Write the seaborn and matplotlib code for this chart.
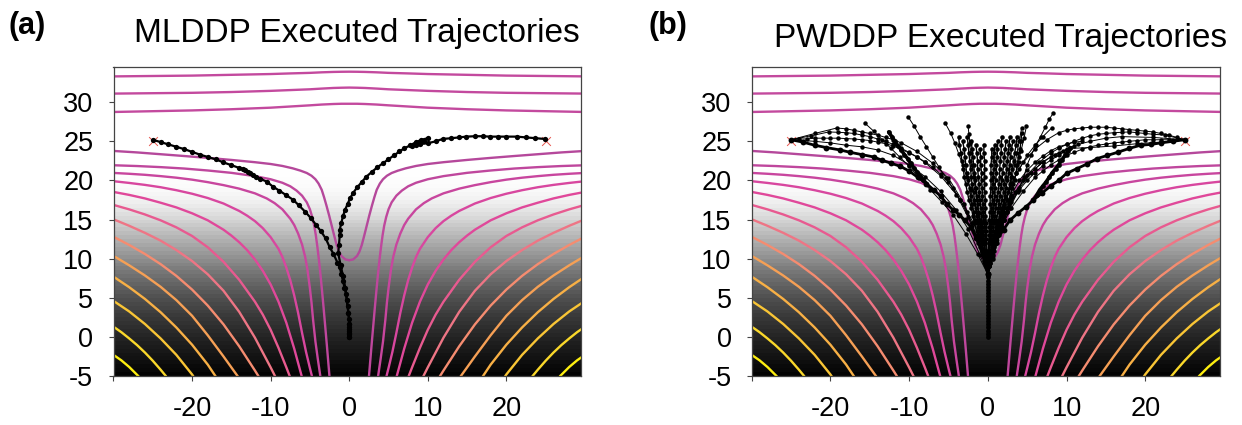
import matplotlib
matplotlib.use('Agg')
import matplotlib.pyplot as plt
import seaborn as sns
import numpy as np

sns.set_style('ticks')
plt.rcParams['font.family'] = ['Liberation Sans', 'DejaVu Sans']

# background shading, gray level per half unit of height starting at y=-5
bg_y_start = -5
bg_gray = [3,8,10,14,18,20,24,27,30,34,38,42,46,50,54,58,63,68,72,77,82,88,94,100,106,112,118,125,132,139,
           146,153,160,167,174,181,188,195,202,209,216,222,228,234,239,243,246,249,251,252,253,254,254,255]

# top contours, full width
top_x = [-30,-25,-20,-15,-10,-7.5,-5,-3.5,-2,-1,0,1,2,3.5,5,7.5,10,15,20,25,30]
top1_y = [33.3,33.35,33.4,33.5,33.6,33.68,33.75,33.82,33.87,33.89,33.9,33.89,33.87,33.82,33.75,33.68,33.6,33.5,33.4,33.35,33.3]
top2_y = [31.1,31.15,31.2,31.3,31.45,31.55,31.65,31.74,31.82,31.85,31.87,31.85,31.82,31.74,31.65,31.55,31.45,31.3,31.2,31.15,31.1]
top3_y = [28.75,28.85,28.95,29.1,29.3,29.45,29.6,29.7,29.77,29.8,29.8,29.8,29.77,29.7,29.6,29.45,29.3,29.1,28.95,28.85,28.75]

# lower contours, left half only (the field is symmetric)
c0 = [(-30,23.77),(-27,23.58),(-24,23.35),(-21,23.12),(-18,22.88),(-15,22.62),(-12,22.33),(-10,22.1),(-8.5,21.85),(-7.2,21.55),(-6.2,21.25),(-5.4,20.95),(-4.8,20.6),
      (-4.3,20.15),(-3.9,19.6),(-3.5,18.8),(-3.2,17.85),(-2.9,16.8),(-2.55,15.5),(-2.2,14.1),(-1.9,12.9),(-1.6,11.75),(-1.3,10.9),(-1,10.35),(-0.5,9.9),(0,9.8)]
c1 = [(-30,21.94),(-27,21.84),(-24,21.7),(-21,21.52),(-18,21.27),(-15,20.97),(-12,20.55),(-10,20.15),(-8.5,19.7),(-7.5,19.25),(-6.7,18.7),(-6,18.05),(-5.4,17.2),(-5,16.3),
      (-4.7,15.3),(-4.45,14.2),(-4.25,13),(-4.05,11.5),(-3.85,9.8),(-3.65,7.9),(-3.45,5.8),(-3.25,3.6),(-3.05,1.3),(-2.85,-1),(-2.65,-3.4),(-2.5,-5.2)]
c2 = [(-30,20.96),(-28,20.85),(-26,20.72),(-24,20.55),(-22,20.35),(-20,20.1),(-18,19.78),(-16,19.4),(-14,18.95),(-12,18.35),(-10.5,17.7),(-9.5,17.1),(-8.5,16.3),(-7.5,15.1),
      (-7,14.3),(-6.5,13.2),(-6,11.8),(-5.6,10.2),(-5.3,8.5),(-5,6.2),(-4.8,4.4),(-4.6,2.2),(-4.3,-0.6),(-4,-2.8),(-3.65,-5.2)]
c3 = [(-30,19.9),(-28,19.68),(-26,19.43),(-24,19.13),(-22,18.75),(-20,18.3),(-18,17.75),(-16,17.05),(-14,16.1),(-13,15.5),(-12,14.8),(-11,13.9),(-10,12.75),(-9,11.25),
      (-8.5,10.2),(-8,8.85),(-7.5,7.25),(-7,5.3),(-6.5,3.05),(-6,0.5),(-5.5,-1.9),(-5,-4),(-4.7,-5.2)]
c4 = [(-30,18.53),(-28,18.15),(-26,17.7),(-24,17.15),(-22,16.55),(-20,15.8),(-18,14.9),(-16,13.7),(-15,12.95),(-14,12.1),(-13,11.1),(-12,9.9),(-11,8.45),(-10,6.7),(-9,4.5),(-8,1.8),(-7,-1.5),(-6,-5.2)]
c5 = [(-30,16.87),(-28,16.3),(-26,15.65),(-24,14.9),(-22,14),(-20,12.9),(-18,11.45),(-16,9.6),(-14,7.3),(-12,4.5),(-11,2.85),(-10,0.9),(-9,-1.4),(-8,-3.9),(-7.5,-5.2)]
c6 = [(-30,15.03),(-28,14.2),(-26,13.3),(-24,12.3),(-22,11.1),(-20,9.7),(-18,8),(-16,5.9),(-14,3.2),(-12,-0.1),(-10,-3.9),(-9.4,-5.1)]
c7 = [(-30,12.8),(-28,11.75),(-26,10.6),(-24,9.3),(-22,7.8),(-20,6.05),(-18,4),(-16,1.6),(-14,-1.2),(-12,-4.3),(-11.5,-5.1)]
c8 = [(-30,10.35),(-28,9.15),(-26,7.85),(-24,6.4),(-22,4.7),(-20,2.7),(-18,0.2),(-16,-2.5),(-14,-5.3)]
c9 = [(-30,7.7),(-28,6.35),(-26,4.85),(-24,3.15),(-22,1.2),(-20,-1),(-18,-3.55),(-16.9,-5.2)]
c10 = [(-30,4.6),(-28,3.25),(-26,1.65),(-24,-0.2),(-22,-2.3),(-20,-4.8),(-19.8,-5.1)]
c11 = [(-30,1.3),(-29,0.6),(-28,-0.2),(-27,-1.05),(-26,-2),(-25,-3.05),(-24,-4.2),(-23.3,-5.05)]
c12 = [(-30,-2.3),(-29,-3),(-28,-3.85),(-27,-4.85),(-26.8,-5.05)]
lower_contours = [c0,c1,c2,c3,c4,c5,c6,c7,c8,c9,c10,c11,c12]
lower_colors = ['#b5489b','#bf479d','#c8469e','#d8479f','#e0489a','#e85a90','#ee7585','#f58c70',
                '#f6a055','#f8b045','#f9c535','#fad82a','#fdee10']

goal_x = [-25,25]
goal_y = [25,25]

# panel (a) trajectories
a_left = [(-25,25.2),(-24,24.9),(-23,24.6),(-22,24.3),(-21,24),(-20,23.65),(-19,23.3),(-18,23),(-17,22.7),(-16,22.3),(-15,21.95),
          (-14,21.6),(-13.5,21.5),(-13.2,21.3),(-12.9,21.1),(-12.6,20.95),(-12.2,20.7),(-11.8,20.45),(-11.3,20.2),(-10.5,19.85),(-9.7,19.2),(-8.9,18.7),
          (-8,18.1),(-7.1,17.5),(-6.4,16.8),(-5.6,16),(-4.9,15.2),(-4.2,14.3),(-3.6,13.5),(-3,12.6),(-2.5,11.5),(-2,10.6),(-1.5,9.5),
          (-1.2,8.9),(-1,8),(-0.8,7.2),(-0.6,6.3),(-0.4,5.5),(-0.3,4.7),(-0.2,3.9),(-0.1,3.1),(0,2.3),(0,1.7),(0,1.2),(0,0.8),(0,0.4),(0,0)]
a_right = [(0,0),(0,0.5),(0,1),(0,1.7),(-0.1,3),(-0.3,4.7),(-0.5,6.3),(-0.8,7.8),(-1.1,9.2),(-1.4,10.7),(-1.3,11.8),(-1.2,13),(-1.2,13.7),(-1,14.6),(-0.8,15.4),
           (-0.55,16.2),(-0.2,17),(0.1,17.7),(0.5,18.4),(1,19.1),(1.6,19.8),(2.2,20.5),(2.9,21.1),(3.6,21.7),(4.3,22.2),(5,22.7),(5.7,23.2),(6.4,23.7),
           (7,24.1),(7.8,24.5),(8.5,24.9),(9.2,25.2),(10,25.4),(9.5,25),(9,24.8),(8.5,24.5),(8,24.45),(9,24.65),(10,24.75),(11,25),(11.9,25.3),(13,25.4),(14,25.5),(14.9,25.6),(16,25.65),(17,25.65),
           (17.9,25.6),(19,25.6),(20,25.6),(21.3,25.6),(22.5,25.5),(23.7,25.4),(24.9,25.3)]

# panel (b) trajectories
b_trunk_y = [0,0.4,0.8,1.2,1.6,2,2.4,2.8,3.2,3.6,4,4.4,4.8,5.2,5.6,6,6.4,6.8,7.2,7.6,8]
b_bold_left = [(-25,25.2),(-23.5,24.9),(-22,24.5),(-20.5,24.2),(-18.8,23.9),(-17.5,23.6),(-16,23.3),(-14.5,23),(-13.5,22.6),(-12.3,22.2),(-11.1,21.8),(-10,21.2),(-8.9,20.4),(-7.8,19.6),(-6.9,18.8),(-6,18),(-5.2,17),(-4.4,16.2),(-3.6,15.6),(-2.9,14.9),(-2.2,14.1),(-1.5,12.6),(-0.8,11.1),(-0.4,9.6),(0,8.1)]
b_bold_right = [(25,25.2),(23.5,25),(22,24.8),(20.7,24.6),(19.4,24.5),(18,24.1),(16.5,23.6),(15.2,23.2),(13.9,22.8),(12.6,22.1),(11.3,21.5),(10,20.9),(9,20),(8,19.3),(6.9,18.4),(5.8,17.5),(4.8,16.6),(3.8,15.8),(2.8,14.9),(2,13.7),(1.1,12.4),(0.5,10.2),(0,8.1)]
b_branch_left = [(-12.6,26.2),(-12.2,25.6),(-11.8,25),(-11.4,24.4),(-11,23.9),(-10.6,23.3),(-10.2,22.8),(-9.8,22.2),(-9.4,21.6),(-9,21.1),(-8.6,20.6),(-8.2,20.1),(-7.8,19.6)]
b_branch_right = [(10.5,24.2),(10.2,23.7),(9.8,23.2),(9.4,22.6),(9,22),(8.6,21.5),(8.2,21),(7.8,20.4),(7.4,19.8),(7,19.3),(6.6,18.8),(6.2,18.1),(5.8,17.5)]
b_thin = [
    [(0,8),(-0.4,10.5),(-1,12.5),(-1.8,14.5),(-2.6,16),(-3.5,17.5),(-4.4,19),(-5.3,20.3),(-6.2,21.7),(-7,23),(-7.8,24.3),(-8.6,25.6),(-9.4,27),(-10.1,28.1)],
    [(0,8),(-0.3,10.5),(-0.7,13),(-1.2,15),(-1.7,17),(-2.2,18.8),(-2.7,20.5),(-3.2,22),(-3.7,23.4),(-4.2,24.8),(-4.7,26),(-5.4,27.3)],
    [(0,8),(-0.2,10),(-0.5,12),(-0.8,14),(-1.1,15.8),(-1.4,17.5),(-1.6,19),(-1.8,20.5),(-2,22),(-2.2,23.5),(-2.3,24.8),(-2.4,25.9),(-2.5,26.9)],
    [(0,8),(0.5,10),(1,12),(1.5,14),(2,15.8),(2.4,17.5),(2.8,19),(3.1,20.5),(3.4,22),(3.7,23.5),(4,25.1),(4.3,26.7)],
    [(0,8),(0.6,10),(1.2,12),(1.8,14),(2.4,16),(2.8,17.8),(3.2,19.5),(3.6,21),(3.9,22.4),(4.2,23.7),(4.6,25.4),(4.9,26.9)],
    [(0,8),(0.8,11),(1.8,14),(2.8,16.5),(3.8,18.5),(4.6,20.5),(5,22),(5.5,23.2),(6.1,24.5),(6.7,25.6),(7.3,26.8),(7.8,27.8),(8.3,28.6)],
    [(-25,25.2),(-24,25.3),(-23,25.3),(-22,25.4),(-21,25.4),(-20,25.4),(-19,25.4),(-18,25.35),(-17,25.3),(-16,25.2),(-15,25.1),(-14,24.9),(-13,24.7),(-12,24.4),(-11,24),(-10,23.5),(-9,23),(-8,22.4),(-7,21.7),(-6,20.8),(-5,19.8),(-3.5,17.5),(-2,14.5),(-1,11.5),(0,8)],
    [(-25,25.2),(-22.5,25.7),(-20.2,26.2),(-19,26.15),(-18,26.1),(-17,26),(-16,25.8),(-15,25.6),(-14,25.3),(-13,25),(-12,24.6),(-11,24.1),(-10,23.6),(-9,23),(-8,22.3),(-6,20.6),(-4,18.2),(-2.5,15.3),(-1.2,12),(0,8)],
    [(-25,25.2),(-22,26),(-19.2,26.7),(-18,26.6),(-17,26.4),(-16,26.2),(-15,26),(-14,25.8),(-13,25.5),(-12,25.2),(-11,24.8),(-9,23.7),(-7,22.2),(-5,20.3),(-3,17),(-1.5,13),(0,8)],
    [(-15.6,27.3),(-14.5,26.3),(-13.4,25.2),(-12.3,24.1),(-11.2,23),(-10,21.8),(-8.7,20.3),(-7.3,18.8),(-5.8,17.2),(-4.4,15.6),(-2.8,13.2),(-1.3,10.6),(0,8)],
    [(-25,25.2),(-22,25),(-20,24.8),(-18,24.5),(-16,24.3),(-14,23.9),(-12,23.2),(-10,22),(-8,20.5),(-6,18.6),(-4,16.2),(-2.5,13.8),(-1,10.5),(0,8)],
    [(25,25.2),(24,25.5),(23,25.8),(22,26),(21,26.2),(20,26.3),(19,26.4),(18,26.5),(17,26.6),(16,26.7),(15,26.8),(14,26.8),(13,26.8),(12,26.7),(11,26.6),(10,26.4),(9,26.1),(7.5,25.2),(6,24),(4.5,22.3),(3,19.7),(1.8,16.5),(0.8,12.5),(0,8)],
    [(25,25.2),(22.5,25.8),(21,25.9),(20,26),(19,26.1),(18,26.2),(17,26.15),(16,26.1),(15,26),(14,25.9),(13,25.7),(12,25.4),(11,25),(10,24.6),(9,24.1),(8,23.5),(6.5,22.3),(5,20.7),(3.5,18.5),(2,15),(0.8,11.5),(0,8)],
    [(25,25.2),(23,25.2),(22,25.2),(21,25.2),(20,25.2),(19,25.1),(18,25),(17,24.9),(16,24.8),(15,24.65),(14,24.5),(13,24.3),(12,24),(11,23.6),(10,23.2),(9,22.6),(8,22),(7,21.2),(6,20.4),(4.5,18.6),(3,16.5),(1.7,14),(0.7,11),(0,8)],
    [(25,25.2),(22,24.9),(19,24.7),(16,24.4),(13,24.2),(10.5,24.1),(9.5,23.7),(8.5,23.3),(7,22.4),(5.5,21),(4,19),(2.5,16.5),(1.2,13),(0,8)],
    [(8.1,26.7),(7,25.6),(6,24.5),(5,23.2),(4,21.5),(3,19.5),(2,17),(1.2,14.5),(0.5,11.5),(0,8)],
    [(25,25.2),(21,25.5),(17,25.6),(15,25.4),(13,25),(11.5,24.6),(10,24),(9,23.5),(8,23),(7,22.3),(6,21.5),(4.5,20),(3,17.8),(1.5,14),(0,8)],
    [(11,24.4),(10,23.9),(9,23.2),(8,22.6),(7,21.9),(6,21),(5,20),(4,18.8),(3,17.2),(2,15),(1,12),(0,8)],
    [(12,25),(11,24.9),(10,24.6),(9,24.3),(8,23.8),(7,23.1),(6,22.3),(5,21.3),(4,20),(3,18.2),(2,15.8),(1,12.5),(0,8)],
]

# near-vertical fan out of the centre, x values read at two ladders of heights
ladder_a = [8,9,10.5,12,13,14,15,16,17,18,19,20,21,22,23,24,25,26]
ladder_b = [8,9.5,11,12.5,13.5,14.5,15.5,16.5,17.5,18.5,19.5,20.5,21.5,22.5,23.5,24.5,25.5]
fan_a = [
    [0,-.2,-.4,-.8,-1.1,-1.3,-1.6,-1.8,-2,-2.2,-2.3,-2.5,-2.7,-2.8,-2.9,-3,-3.2],
    [0,-.1,-.3,-.5,-.7,-.9,-1,-1.2,-1.3,-1.4,-1.5,-1.6,-1.7,-1.8,-1.9,-2,-2.1],
    [0,0,-.1,-.3,-.3,-.4,-.5,-.6,-.6,-.7,-.7,-.8,-.8,-.9,-.9,-1],
    [0,0,.1,.1,.2,.2,.2,.3,.3,.3,.4,.4,.4,.4,.5,.5],
    [0,.1,.2,.3,.4,.5,.6,.7,.8,.9,.9,1,1.1,1.1,1.2,1.2,1.3],
    [0,.1,.3,.6,.8,1,1.1,1.3,1.4,1.6,1.7,1.8,1.9,2,2.1,2.2,2.3],
    [0,.2,.4,.8,1.1,1.3,1.6,1.8,2,2.2,2.3,2.5,2.7,2.8,2.9,3,3.2],
    [0,.2,.6,1.1,1.4,1.8,2.1,2.4,2.7,2.9,3.1,3.4,3.6,3.7,3.9,4.1,4.2,4.3],
]
fan_b = [
    [0,-.3,-.7,-1.1,-1.4,-1.7,-1.9,-2.1,-2.4,-2.6,-2.8,-3,-3.1,-3.3,-3.4,-3.6,-3.7],
    [0,-.2,-.5,-.8,-1,-1.2,-1.4,-1.5,-1.7,-1.8,-2,-2.1,-2.2,-2.3,-2.4,-2.5,-2.6],
    [0,-.1,-.3,-.5,-.6,-.7,-.8,-.9,-1,-1.1,-1.1,-1.2,-1.3,-1.3,-1.4,-1.5],
    [0,0,-.1,-.2,-.2,-.2,-.3,-.3,-.3,-.4,-.4,-.4,-.4,-.4,-.5,-.5],
    [0,.1,.2,.3,.3,.4,.5,.5,.6,.6,.7,.7,.8,.8,.8,.9],
    [0,.2,.4,.5,.7,.8,.9,1,1.2,1.3,1.4,1.5,1.5,1.6,1.7,1.7,1.8],
    [0,.3,.6,.8,1.1,1.3,1.5,1.6,1.8,2,2.1,2.3,2.4,2.5,2.6,2.7,2.8],
    [0,.3,.7,1.1,1.4,1.7,1.9,2.1,2.4,2.6,2.8,3,3.1,3.3,3.4,3.6,3.7],
]

x_ticks = [-30,-20,-10,0,10,20]
x_labels = ['','-20','-10','0','10','20']
y_ticks = [-5,0,5,10,15,20,25,30]
y_labels = ['-5','0','5','10','15','20','25','30']


def draw_path(ax, pts, lw, ms):
    xy = np.array(pts)
    sns.lineplot(x=xy[:,0], y=xy[:,1], ax=ax, color='black', lw=lw, marker='o', markersize=ms,
                 markeredgewidth=0, sort=False, estimator=None, legend=False, zorder=5)


def draw_base(ax, title, title_x, title_pad):
    rows = np.array(bg_gray)[:,None]
    edges = bg_y_start + 0.5*np.arange(len(bg_gray)+1)
    ax.pcolormesh([-30,29.5], edges, rows, cmap='gray', vmin=0, vmax=255, zorder=0)
    for y in (top1_y, top2_y, top3_y):
        sns.lineplot(x=top_x, y=y, ax=ax, color='#c34a9e', lw=1.7, sort=False, estimator=None, zorder=2)
    for pts, col in zip(lower_contours, lower_colors):
        xy = np.array(pts)
        sns.lineplot(x=xy[:,0], y=xy[:,1], ax=ax, color=col, lw=1.7, sort=False, estimator=None, zorder=2)
        sns.lineplot(x=-xy[:,0], y=xy[:,1], ax=ax, color=col, lw=1.7, sort=False, estimator=None, zorder=2)
    sns.scatterplot(x=goal_x, y=goal_y, ax=ax, marker='x', color='#e8554e', s=40, linewidth=0.7, zorder=4)
    ax.set_xlim(-30,29.5)
    ax.set_ylim(-5,34.5)
    ax.set_xticks(x_ticks)
    ax.set_xticklabels(x_labels)
    ax.set_yticks(y_ticks)
    ax.set_yticklabels(y_labels)
    ax.tick_params(labelsize=19.5, length=3.5, width=0.8, color='#444444', labelcolor='black')
    ax.tick_params(axis='y', pad=11)
    ax.tick_params(axis='x', pad=11)
    for s in ax.spines.values():
        s.set_color('#444444')
        s.set_linewidth(0.9)
    ax.set_title(title, fontsize=24, x=title_x, pad=title_pad, color='black')


fig = plt.figure(figsize=(12.42,4.25), dpi=100)
ax_a = fig.add_axes([113.5/1242, 49/425, 467.5/1242, 309/425])
ax_b = fig.add_axes([751.7/1242, 49/425, 468.3/1242, 309/425])

draw_base(ax_a, 'MLDDP Executed Trajectories', 0.521, 18)
draw_path(ax_a, a_left, 1.6, 3.8)
draw_path(ax_a, a_right, 1.6, 3.8)

draw_base(ax_b, 'PWDDP Executed Trajectories', 0.532, 14.5)
for path in b_thin:
    draw_path(ax_b, path, 0.7, 3.2)
for xs in fan_a:
    draw_path(ax_b, list(zip(xs, ladder_a)), 1, 3.3)
for xs in fan_b:
    draw_path(ax_b, list(zip(xs, ladder_b)), 1, 3.3)
draw_path(ax_b, b_bold_left, 2, 4.2)
draw_path(ax_b, b_bold_right, 2, 4.2)
draw_path(ax_b, b_branch_left, 2.6, 3.4)
draw_path(ax_b, b_branch_right, 2.6, 3.4)
draw_path(ax_b, [(0,v) for v in b_trunk_y], 2.5, 3.4)

fig.text(8/1242, 1-34/425, '(a)', fontsize=22, fontweight='bold', color='black')
fig.text(648/1242, 1-34/425, '(b)', fontsize=22, fontweight='bold', color='black')

fig.savefig('out.png', dpi=100)
